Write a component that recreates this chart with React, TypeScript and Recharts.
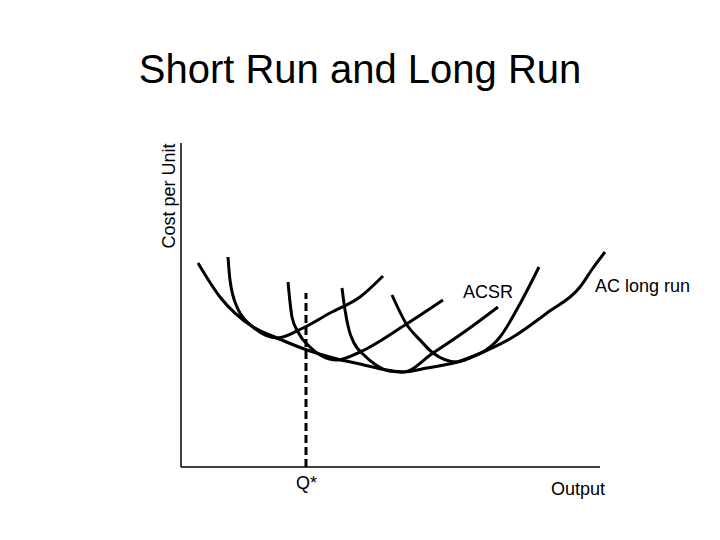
import { LineChart, Line, XAxis, YAxis, ReferenceLine, ReferenceDot } from 'recharts';

// output (q) vs cost per unit (c)
const lracCurve = [
  { q: 1.7, c: 20.4 }, { q: 3.9, c: 17.0 }, { q: 7.2, c: 14.0 }, { q: 9.6, c: 12.9 },
  { q: 12.6, c: 11.7 }, { q: 15.6, c: 10.8 }, { q: 17.9, c: 10.3 }, { q: 20.6, c: 9.7 },
  { q: 22.2, c: 9.5 }, { q: 24.6, c: 9.9 }, { q: 27.6, c: 10.5 }, { q: 30.0, c: 11.4 },
  { q: 33.2, c: 13.0 }, { q: 36.6, c: 15.4 }, { q: 39.9, c: 18.0 }, { q: 41.2, c: 19.9 },
  { q: 42.4, c: 21.5 },
];
const srCurve1 = [
  { q: 4.7, c: 21.0 }, { q: 4.9, c: 18.7 }, { q: 5.6, c: 16.0 }, { q: 5.9, c: 15.4 },
  { q: 7.2, c: 14.0 }, { q: 9.6, c: 12.9 }, { q: 12.2, c: 13.9 }, { q: 14.9, c: 15.4 },
  { q: 17.9, c: 17.0 }, { q: 20.2, c: 19.1 },
];
const srCurve2 = [
  { q: 10.7, c: 18.5 }, { q: 11.1, c: 15.0 }, { q: 11.7, c: 13.5 }, { q: 12.9, c: 12.0 },
  { q: 13.9, c: 11.2 }, { q: 15.6, c: 10.7 }, { q: 17.9, c: 11.5 }, { q: 22.4, c: 14.2 },
  { q: 26.2, c: 16.7 },
];
const srCurve3 = [
  { q: 16.1, c: 17.9 }, { q: 16.4, c: 15.7 }, { q: 16.8, c: 13.7 }, { q: 17.3, c: 12.4 },
  { q: 18.3, c: 11.2 }, { q: 19.5, c: 10.2 }, { q: 20.8, c: 9.6 }, { q: 22.2, c: 9.5 },
  { q: 25.2, c: 11.4 }, { q: 28.6, c: 13.7 }, { q: 31.7, c: 16.0 },
];
const srCurve4 = [
  { q: 21.1, c: 17.2 }, { q: 22.6, c: 14.2 }, { q: 23.9, c: 12.7 }, { q: 25.2, c: 11.4 },
  { q: 27.6, c: 10.5 }, { q: 28.9, c: 10.9 }, { q: 31.9, c: 13.0 }, { q: 34.0, c: 16.5 },
  { q: 35.8, c: 20.0 },
];
const curves = [lracCurve, srCurve1, srCurve2, srCurve3, srCurve4];

const qStar = 12.5;
const qStarTop = 17.4;
const xAxisEnd = 41.9;
const yAxisTop = 32.4;

const annotations = [
  { text: 'ACSR', q: 28.2, c: 16.9 },
  { text: 'AC long run', q: 41.4, c: 17.5 },
  { text: 'Q*', q: 11.5, c: -2.2 },
  { text: 'Output', q: 37.0, c: -2.8 },
];

const font = '"Liberation Sans", Arial, sans-serif';

export default function App() {
  return (
    <div style={{ position: 'absolute', left: 0, top: 0, width: 720, height: 540, background: '#fff', fontFamily: font }}>
      <LineChart width={720} height={540} margin={{ top: 143, right: 99, bottom: 73, left: 181 }}>
        <XAxis type="number" dataKey="q" domain={[0, 44]} hide />
        <YAxis type="number" domain={[0, yAxisTop]} hide />
        <ReferenceLine segment={[{ x: 0, y: 0 }, { x: xAxisEnd, y: 0 }]} stroke="#000" strokeWidth={1.5} />
        <ReferenceLine segment={[{ x: 0, y: 0 }, { x: 0, y: yAxisTop }]} stroke="#000" strokeWidth={1.5} />
        <ReferenceLine
          segment={[{ x: qStar, y: 0 }, { x: qStar, y: qStarTop }]}
          stroke="#000"
          strokeWidth={3}
          strokeDasharray="8 4"
        />
        {curves.map((d, i) => (
          <Line
            key={i}
            data={d}
            dataKey="c"
            type="monotone"
            stroke="#000"
            strokeWidth={3}
            dot={false}
            activeDot={false}
            isAnimationActive={false}
          />
        ))}
        {annotations.map((a) => (
          <ReferenceDot
            key={a.text}
            x={a.q}
            y={a.c}
            r={0}
            ifOverflow="visible"
            shape={(p: any) => (
              <text x={p.cx} y={p.cy} fontSize={18} fontFamily={font} fill="#000">
                {a.text}
              </text>
            )}
          />
        ))}
      </LineChart>
      <svg width={720} height={540} style={{ position: 'absolute', left: 0, top: 0, pointerEvents: 'none' }}>
        <text x={360} y={83} textAnchor="middle" fontSize={40} fontFamily={font} fill="#000">
          Short Run and Long Run
        </text>
        <text transform="translate(175,196) rotate(-90)" textAnchor="middle" fontSize={18} fontFamily={font} fill="#000">
          Cost per Unit
        </text>
      </svg>
    </div>
  );
}
